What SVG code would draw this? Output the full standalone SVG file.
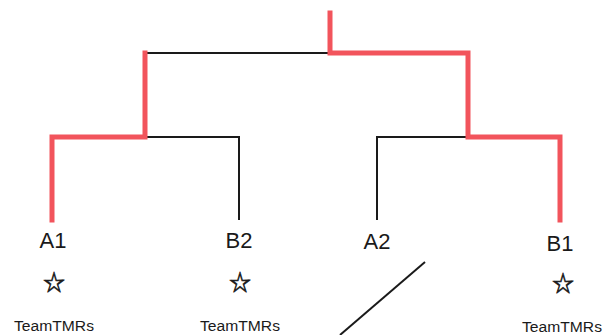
<svg xmlns="http://www.w3.org/2000/svg" width="611" height="335" viewBox="0 0 611 335">
<style>
.red{fill:none;stroke:#f2545c;stroke-width:5;stroke-linejoin:miter;stroke-linecap:square}
.blk{fill:none;stroke:#1a1a1a;stroke-width:2}
.lbl{font-family:"Liberation Sans",Arial,sans-serif;font-size:22px;fill:#1a1a1a;text-anchor:middle}
.star{font-family:"Noto Sans CJK JP","DejaVu Sans",sans-serif;font-size:22px;fill:#1a1a1a;stroke:#1a1a1a;stroke-width:0.6;text-anchor:middle}
.team{font-family:"Liberation Sans",Arial,sans-serif;font-size:14px;fill:#1a1a1a;text-anchor:middle}
</style>
<rect width="611" height="335" fill="#fff"/>
<g id="connectors">
<path class="blk" d="M145 53 H330"/>
<path class="blk" d="M145 137 H239 V220"/>
<path class="blk" d="M377 220 V137 H468"/>
<path class="red" d="M330 13 V53 H468 V137 H560 V220"/>
<path class="red" d="M52 220 V137 H145 V53"/>
<path class="blk" d="M425 262 L340 335"/>
</g>
<g id="A1">
<text class="lbl" x="53" y="248">A1</text>
<text class="star" x="54" y="290">☆</text>
<text class="team" x="54" y="331" textLength="80" lengthAdjust="spacingAndGlyphs">TeamTMRs</text>
</g>
<g id="B2">
<text class="lbl" x="239" y="248">B2</text>
<text class="star" x="240" y="290">☆</text>
<text class="team" x="240" y="331" textLength="80" lengthAdjust="spacingAndGlyphs">TeamTMRs</text>
</g>
<g id="A2">
<text class="lbl" x="377" y="249">A2</text>
</g>
<g id="B1">
<text class="lbl" x="560" y="251">B1</text>
<text class="star" x="563" y="291">☆</text>
<text class="team" x="562" y="332" textLength="80" lengthAdjust="spacingAndGlyphs">TeamTMRs</text>
</g>
</svg>
